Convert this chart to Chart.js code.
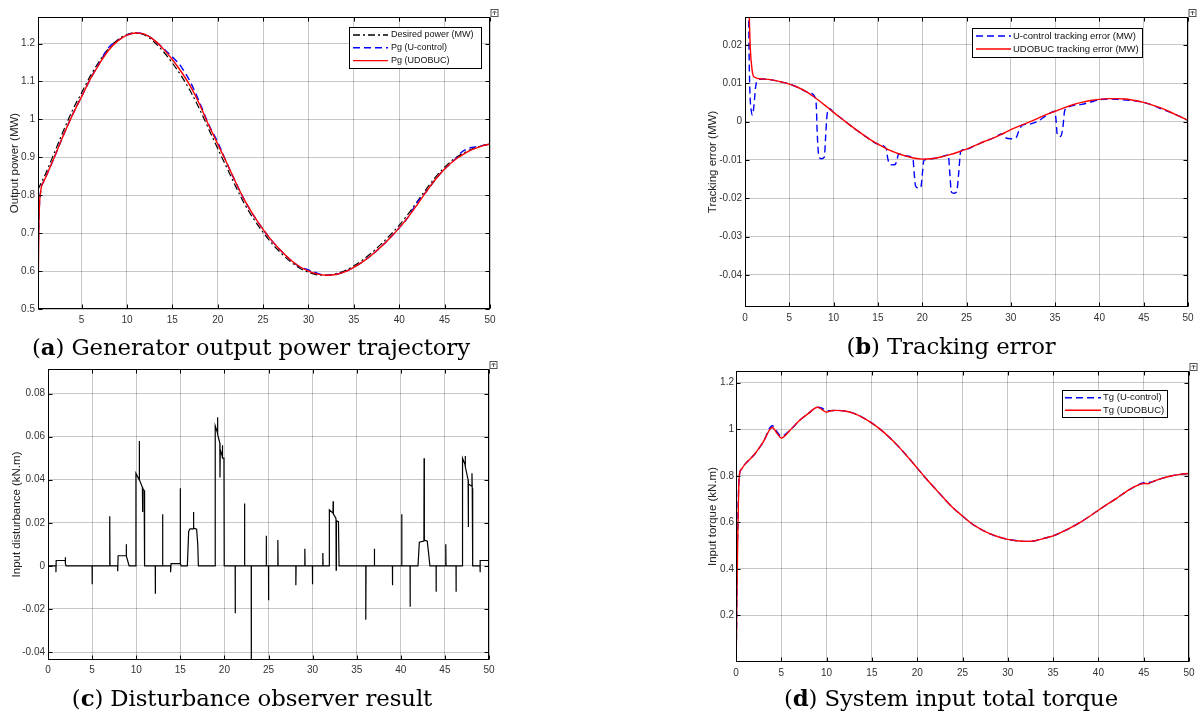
<!DOCTYPE html>
<html>
<head>
<meta charset="utf-8">
<script src="https://cdn.jsdelivr.net/npm/chart.js@4.4.1/dist/chart.umd.min.js"></script>
<style>
  body { margin: 0; background: #fff; width: 1200px; height: 718px; position: relative; overflow: hidden; }
  canvas { position: absolute; }
  .cap { position: absolute; font-family: "DejaVu Serif", serif; font-size: 22.8px; color: #000;
         white-space: nowrap; transform: translate(-50%, -50%); letter-spacing: -0.1px; }
</style>
</head>
<body>
<canvas id="chartA" width="500" height="330" style="left:0;top:0"></canvas>
<canvas id="chartB" width="510" height="330" style="left:690px;top:0"></canvas>
<canvas id="chartC" width="500" height="388" style="left:0;top:330px"></canvas>
<canvas id="chartD" width="510" height="388" style="left:690px;top:330px"></canvas>
<div class="cap" style="left:251px;top:347px">(<b>a</b>) Generator output power trajectory</div>
<div class="cap" style="left:951px;top:346px">(<b>b</b>) Tracking error</div>
<div class="cap" style="left:252px;top:698px">(<b>c</b>) Disturbance observer result</div>
<div class="cap" style="left:951px;top:698px">(<b>d</b>) System input total torque</div>
<script>
// common time grid (s)
const secondsGrid = [1, 2, 3, 4, 5, 6, 7, 8, 9, 10, 11, 12, 13, 14, 15, 16, 17, 18, 19, 20,
  21, 22, 23, 24, 25, 26, 27, 28, 29, 30, 31, 32, 33, 34, 35, 36, 37, 38, 39, 40,
  41, 42, 43, 44, 45, 46, 47, 48, 49, 50];
const xTicks = [0, 5, 10, 15, 20, 25, 30, 35, 40, 45, 50];

// (a) output power
const tPg = [0.2, 0.3, 0.5, 0.8, ...secondsGrid];
const pgUdobuc = [0.5, 0.72, 0.81, 0.835,
  0.845, 0.9, 0.958, 1.012, 1.06, 1.108, 1.148, 1.183, 1.207, 1.222,
  1.228, 1.224, 1.209, 1.186, 1.158, 1.125, 1.087, 1.04, 0.985, 0.935,
  0.885, 0.833, 0.785, 0.745, 0.71, 0.679, 0.653, 0.63, 0.612, 0.6,
  0.592, 0.589, 0.591, 0.598, 0.61, 0.625, 0.643, 0.664, 0.688, 0.714,
  0.743, 0.776, 0.81, 0.842, 0.869, 0.891, 0.907, 0.92, 0.929, 0.935];
const pgUcontrol = [0.62, 0.74, 0.812, 0.835,
  0.845, 0.9, 0.958, 1.012, 1.06, 1.108, 1.15, 1.19, 1.208, 1.222,
  1.228, 1.224, 1.209, 1.187, 1.165, 1.138, 1.098, 1.045, 0.987, 0.94,
  0.885, 0.833, 0.785, 0.745, 0.71, 0.679, 0.653, 0.63, 0.612, 0.603,
  0.594, 0.589, 0.591, 0.598, 0.61, 0.625, 0.643, 0.664, 0.688, 0.714,
  0.743, 0.782, 0.81, 0.842, 0.869, 0.891, 0.916, 0.926, 0.93, 0.935];
const tDesired = [0.2, 0.5, ...secondsGrid];
const desiredPower = [0.815, 0.83,
  0.855, 0.912, 0.97, 1.024, 1.07, 1.116, 1.155, 1.188, 1.21, 1.224,
  1.228, 1.222, 1.204, 1.179, 1.149, 1.114, 1.074, 1.027, 0.975, 0.923,
  0.873, 0.822, 0.775, 0.736, 0.702, 0.672, 0.647, 0.625, 0.608, 0.597,
  0.59, 0.589, 0.593, 0.601, 0.614, 0.63, 0.649, 0.671, 0.695, 0.721,
  0.751, 0.784, 0.817, 0.848, 0.874, 0.895, 0.91, 0.922, 0.93, 0.935];
const powerTicks = [0.5, 0.6, 0.7, 0.8, 0.9, 1, 1.1, 1.2];

// (b) tracking error
const tErrUdobuc = [0.4, 0.5, 0.6, 0.8, ...secondsGrid];
const errUdobuc = [0.035, 0.026, 0.019, 0.0135,
  0.0117, 0.0111, 0.0109, 0.0104, 0.0098, 0.0089, 0.0077, 0.0061, 0.0043, 0.0024,
  0.0006, -0.0012, -0.0029, -0.0045, -0.0059, -0.0071, -0.0081, -0.0089, -0.0095, -0.0098,
  -0.0097, -0.0093, -0.0087, -0.008, -0.0072, -0.0062, -0.0052, -0.0043, -0.0033, -0.0021,
  -0.0011, -0.0002, 0.0008, 0.0018, 0.0027, 0.0036, 0.0044, 0.005, 0.0055, 0.0058,
  0.006, 0.006, 0.0059, 0.0055, 0.005, 0.0043, 0.0035, 0.0025, 0.0014, 0.0003];
const tErrUcontrol = [
  0.4, 0.45, 0.55, 0.7, 0.85, 1.0, 1.2, 1.4,
  2, 3, 4, 5, 6, 7,
  7.95, 8.05, 8.15, 8.35, 8.6, 8.95, 9.1, 9.25, 9.5,
  10, 11, 12, 13, 14, 15,
  15.95, 16.1, 16.3, 16.6, 16.95, 17.15, 17.35,
  18,
  18.95, 19.08, 19.25, 19.5, 19.85, 20.0, 20.2,
  21, 22,
  22.95, 23.1, 23.3, 23.6, 23.9, 24.1, 24.35,
  25, 26, 27, 28,
  29.2, 29.4, 30, 30.6, 30.9, 31.3,
  32, 33, 34,
  34.95, 35.1, 35.25, 35.6, 35.85, 36.1, 36.5,
  37, 38, 39, 40, 41, 42, 43, 44, 45, 46, 47, 48, 49, 50];
const errUcontrol = [
  0.035, 0.02, 0.008, 0.003, 0.0017, 0.004, 0.009, 0.0108,
  0.0111, 0.0109, 0.0104, 0.0098, 0.0089, 0.0077,
  0.0062, 0.004, -0.003, -0.0092, -0.0097, -0.0093, -0.004, 0.0015, 0.0034,
  0.0024, 0.0006, -0.0012, -0.0029, -0.0045, -0.0059,
  -0.0071, -0.0095, -0.011, -0.0113, -0.0112, -0.01, -0.0084,
  -0.0089,
  -0.0095, -0.013, -0.0168, -0.0173, -0.0172, -0.014, -0.0101,
  -0.0097, -0.0093,
  -0.0087, -0.013, -0.0184, -0.0187, -0.0183, -0.014, -0.0078,
  -0.0072, -0.0062, -0.0052, -0.0043,
  -0.0031, -0.0042, -0.0045, -0.0042, -0.0025, -0.0009,
  -0.0007, 0.0, 0.0016,
  0.0027, 0.0005, -0.0035, -0.0039, -0.002, 0.003, 0.0038,
  0.0042, 0.0045, 0.0051, 0.0057, 0.0059, 0.0058, 0.0056, 0.0054, 0.005, 0.0043, 0.0033, 0.0024, 0.0014, 0.0003];
const errTicks = [-0.04, -0.03, -0.02, -0.01, 0, 0.01, 0.02];

// (c) disturbance observer output
const tObs = [
  0, 0.9, 0.9, 0.93, 1.96, 1.96, 1.99, 2.05,
  5.0, 5.0, 5.03,
  7.0, 7.0, 7.03,
  7.9, 7.9, 7.95, 8.85, 8.87, 8.9, 9.2,
  9.97, 9.97, 10.33, 10.35, 10.37, 10.7, 10.72, 10.75, 10.9, 10.95,
  12.16, 12.16, 12.19,
  12.99, 12.99, 13.02,
  13.9, 13.9, 13.95, 14.97, 14.99, 15.02, 15.1,
  15.8, 15.95, 16.1, 16.48, 16.5, 16.52, 16.85, 16.98, 17.05,
  18.96, 18.96, 19.2, 19.22, 19.25, 19.48, 19.5, 19.53, 19.75, 19.77, 19.8, 19.95, 19.98,
  21.22, 21.22, 21.25,
  22.28, 22.28, 22.31,
  23.04, 23.04, 23.07,
  24.74, 24.74, 24.77,
  25.0, 25.0, 25.03,
  26.06, 26.06, 26.09,
  28.1, 28.1, 28.13,
  29.12, 29.12, 29.15,
  29.98, 29.98, 30.01,
  31.16, 31.16, 31.19,
  31.9, 31.9, 32.31, 32.33, 32.36, 32.65, 32.67, 32.7, 32.93, 33.0,
  36.03, 36.03, 36.06,
  37.0, 37.0, 37.03,
  39.05, 39.05, 39.08,
  40.1, 40.1, 40.13,
  41.05, 41.05, 41.08,
  41.95, 42.1, 42.62, 42.64, 42.67, 43.0, 43.15, 43.3,
  44.0, 44.0, 44.03,
  45.1, 45.1, 45.13,
  46.26, 46.26, 46.29,
  47.0, 47.0, 47.28, 47.3, 47.33, 47.63, 47.65, 47.68, 48.05, 48.07, 48.1, 48.15,
  48.98, 48.98, 49.02, 50];
const obsDisturbance = [
  0, 0, -0.003, 0.0025, 0.0025, 0.004, 0.001, 0,
  0, -0.0085, 0,
  0, 0.023, 0,
  0, -0.0025, 0.0047, 0.0047, 0.01, 0.0045, 0,
  0, 0.043, 0.04, 0.058, 0.04, 0.0365, 0.025, 0.036, 0.035, 0,
  0, -0.013, 0,
  0, 0.024, 0,
  0, -0.003, 0.001, 0.001, 0.036, 0.001, 0,
  0, 0.016, 0.0172, 0.0172, 0.025, 0.0175, 0.017, 0.01, 0,
  0, 0.065, 0.062, 0.069, 0.061, 0.057, 0.041, 0.054, 0.051, 0.056, 0.05, 0.05, 0,
  0, -0.022, 0,
  0, 0.029, 0,
  0, -0.06, 0,
  0, 0.014, 0,
  0, -0.016, 0,
  0, 0.012, 0,
  0, -0.009, 0,
  0, 0.008, 0,
  0, -0.0085, 0,
  0, 0.006, 0,
  0, 0.026, 0.0245, 0.03, 0.024, 0.022, -0.002, 0.021, 0.0205, 0,
  0, -0.025, 0,
  0, 0.008, 0,
  0, -0.009, 0,
  0, 0.024, 0,
  0, -0.019, 0,
  0, 0.011, 0.0115, 0.05, 0.012, 0.0115, 0.006, 0,
  0, -0.012, 0,
  0, 0.01, 0,
  0, -0.012, 0,
  0, 0.05, 0.047, 0.051, 0.046, 0.04, 0.018, 0.038, 0.037, 0.043, 0.036, 0,
  0, -0.003, 0.0025, 0.0025];
const obsTicks = [-0.04, -0.02, 0, 0.02, 0.04, 0.06, 0.08];

// (d) input torque
const tTorque = [0, 0.05, 0.1, 0.2, 0.3, 0.4, 0.6, 1, 2, 3, 4,
  4.5, 5, 6, 7, 8, 9, 9.5, 10, 10.5, 11,
  12, 13, 14, 15, 16, 17, 18, 19, 20, 21, 22, 23, 24, 25, 26, 27, 28, 29, 30,
  31, 32, 33, 34, 35, 36, 37, 38, 39, 40, 41, 42, 43, 44, 45, 45.5, 46, 47, 48, 49, 50];
const tgUdobuc = [0, 0.1, 0.28, 0.55, 0.75, 0.81, 0.828, 0.85, 0.89, 0.945, 1.007,
  0.984, 0.962, 0.997, 1.037, 1.068, 1.094, 1.084, 1.073, 1.079, 1.081,
  1.078, 1.068, 1.05, 1.026, 0.997, 0.962, 0.923, 0.879, 0.833, 0.787, 0.744, 0.701, 0.66, 0.627, 0.595, 0.571, 0.551, 0.537, 0.527,
  0.521, 0.518, 0.521, 0.531, 0.542, 0.559, 0.578, 0.6, 0.625, 0.652, 0.678, 0.703, 0.73, 0.753, 0.767, 0.766, 0.775, 0.789, 0.799, 0.806, 0.81];
const tgUcontrol = [0, 0.12, 0.35, 0.6, 0.76, 0.81, 0.828, 0.85, 0.89, 0.945, 1.015,
  0.99, 0.97, 0.997, 1.037, 1.068, 1.094, 1.09, 1.08, 1.08, 1.081,
  1.078, 1.068, 1.05, 1.026, 0.997, 0.962, 0.923, 0.879, 0.833, 0.787, 0.744, 0.701, 0.66, 0.627, 0.595, 0.571, 0.551, 0.537, 0.527,
  0.521, 0.518, 0.521, 0.531, 0.542, 0.559, 0.578, 0.6, 0.625, 0.652, 0.678, 0.703, 0.73, 0.753, 0.77, 0.771, 0.775, 0.789, 0.799, 0.806, 0.81];
const torqueTicks = [0.2, 0.4, 0.6, 0.8, 1, 1.2];

const FONT = '"Liberation Sans", Arial, sans-serif';
const pts = (xs, ys) => xs.map((x, i) => ({ x, y: ys[i] }));

// axes box, inner tick marks and the little export icon
const framePlugin = {
  id: 'frame',
  afterDatasetsDraw(chart) {
    const { ctx, chartArea: a, scales } = chart;
    const L = Math.round(a.left) + 0.5, R = Math.round(a.right) - 0.5;
    const T = Math.round(a.top) + 0.5, B = Math.round(a.bottom) - 0.5;
    ctx.save();
    ctx.strokeStyle = '#000';
    ctx.lineWidth = 1;
    ctx.beginPath();
    scales.x.ticks.forEach(t => {
      const px = Math.round(scales.x.getPixelForValue(t.value)) + 0.5;
      ctx.moveTo(px, B); ctx.lineTo(px, B - 4);
      ctx.moveTo(px, T); ctx.lineTo(px, T + 4);
    });
    scales.y.ticks.forEach(t => {
      const py = Math.round(scales.y.getPixelForValue(t.value)) + 0.5;
      ctx.moveTo(L, py); ctx.lineTo(L + 4, py);
      ctx.moveTo(R, py); ctx.lineTo(R - 4, py);
    });
    ctx.stroke();
    ctx.strokeRect(L, T, R - L, B - T);
    ctx.strokeStyle = '#555';
    ctx.strokeRect(R + 1.5, T - 8, 7, 7);
    ctx.beginPath();
    ctx.moveTo(R + 5, T - 6); ctx.lineTo(R + 5, T - 2.5);
    ctx.moveTo(R + 3, T - 4.5); ctx.lineTo(R + 5, T - 6.5); ctx.lineTo(R + 7, T - 4.5);
    ctx.stroke();
    ctx.restore();
  }
};

// boxed legend placed inside the axes
const boxLegend = {
  id: 'boxLegend',
  afterDraw(chart, args, o) {
    if (!o || !o.order) return;
    const ctx = chart.ctx;
    ctx.save();
    ctx.fillStyle = '#fff';
    ctx.fillRect(o.x, o.y, o.w, o.h);
    ctx.strokeStyle = '#000';
    ctx.lineWidth = 1;
    ctx.strokeRect(o.x + 0.5, o.y + 0.5, o.w, o.h);
    ctx.font = o.fontSize + 'px ' + FONT;
    ctx.textBaseline = 'middle';
    o.order.forEach((di, i) => {
      const ds = chart.data.datasets[di];
      const y = o.y + o.first + i * o.gap;
      ctx.strokeStyle = ds.borderColor;
      ctx.lineWidth = 1.4;
      ctx.setLineDash(ds.borderDash || []);
      ctx.beginPath();
      ctx.moveTo(o.x + o.lineFrom, y);
      ctx.lineTo(o.x + o.lineTo, y);
      ctx.stroke();
      ctx.setLineDash([]);
      ctx.fillStyle = '#111';
      ctx.fillText(ds.label, o.x + o.textAt, y);
    });
    ctx.restore();
  }
};

function buildChart(canvasId, spec) {
  return new Chart(document.getElementById(canvasId), {
    type: 'line',
    data: { datasets: spec.datasets },
    options: {
      responsive: false,
      animation: false,
      layout: { padding: spec.padding },
      elements: { point: { radius: 0 }, line: { borderWidth: 1.4 } },
      plugins: {
        legend: { display: false },
        tooltip: { enabled: false },
        boxLegend: spec.legend || {}
      },
      scales: {
        x: {
          type: 'linear',
          min: spec.xMin,
          max: 50,
          grid: { color: 'rgba(0,0,0,0.22)', drawTicks: false },
          border: { display: false },
          ticks: { padding: spec.xPad, color: '#333', font: { family: FONT, size: 10 }, callback: v => String(v) },
          afterBuildTicks: s => { s.ticks = xTicks.filter(v => v >= spec.xMin).map(v => ({ value: v })); },
          afterFit: s => { s.height = 14; s.paddingLeft = 0; s.paddingRight = 0; }
        },
        y: {
          min: spec.yMin,
          max: spec.yMax,
          grid: { color: 'rgba(0,0,0,0.22)', drawTicks: false },
          border: { display: false },
          ticks: { padding: spec.yPad, color: '#333', font: { family: FONT, size: 10 }, callback: v => String(v) },
          afterBuildTicks: s => { s.ticks = spec.yTicks.map(v => ({ value: v })); },
          afterFit: s => { s.width = spec.yWidth; s.paddingTop = 0; s.paddingBottom = 0; },
          title: {
            display: true,
            text: spec.yTitle,
            color: '#222',
            font: { family: FONT, size: 11.5 },
            padding: { top: spec.titleOffset, bottom: 0 }
          }
        }
      }
    },
    plugins: [framePlugin, boxLegend]
  });
}

const RED = '#ff0000', BLUE = '#0000ff';

buildChart('chartA', {
  padding: { top: 17, right: 10, bottom: 7, left: 0 },
  yWidth: 38, xMin: 0.2, yMin: 0.5, yMax: 1.27, yTicks: powerTicks,
  xPad: 5, yPad: 3, titleOffset: 8, yTitle: 'Output power (MW)',
  datasets: [
    { label: 'Pg (UDOBUC)', data: pts(tPg, pgUdobuc), borderColor: RED, cubicInterpolationMode: 'monotone', clip: 0 },
    { label: 'Pg (U-control)', data: pts(tPg, pgUcontrol), borderColor: BLUE, borderDash: [7, 4], cubicInterpolationMode: 'monotone', clip: 0 },
    { label: 'Desired power (MW)', data: pts(tDesired, desiredPower), borderColor: '#000', borderWidth: 1.2, borderDash: [7, 3, 2, 3], cubicInterpolationMode: 'monotone', clip: 0 }
  ],
  legend: { x: 349, y: 27, w: 132, h: 41, first: 8, gap: 12.8, lineFrom: 4, lineTo: 39, textAt: 42, fontSize: 9, order: [2, 1, 0] }
});

buildChart('chartB', {
  padding: { top: 17, right: 12, bottom: 9, left: 0 },
  yWidth: 55, xMin: 0, yMin: -0.0484, yMax: 0.0273, yTicks: errTicks,
  xPad: 5, yPad: 3, titleOffset: 16, yTitle: 'Tracking error (MW)',
  datasets: [
    { label: 'UDOBUC tracking error (MW)', data: pts(tErrUdobuc, errUdobuc), borderColor: RED, cubicInterpolationMode: 'monotone', clip: 0 },
    { label: 'U-control tracking error (MW)', data: pts(tErrUcontrol, errUcontrol), borderColor: BLUE, borderDash: [7, 4], cubicInterpolationMode: 'monotone', clip: 0 }
  ],
  legend: { x: 282, y: 28, w: 170, h: 29, first: 8, gap: 13, lineFrom: 4, lineTo: 39, textAt: 41, fontSize: 9.5, order: [1, 0] }
});

buildChart('chartC', {
  padding: { top: 39, right: 11, bottom: 44, left: 0 },
  yWidth: 48, xMin: 0, yMin: -0.0437, yMax: 0.0914, yTicks: obsTicks,
  xPad: 4, yPad: 3, titleOffset: 10, yTitle: 'Input disturbance (kN.m)',
  datasets: [
    { label: 'Disturbance', data: pts(tObs, obsDisturbance), borderColor: '#000', borderWidth: 1.2, tension: 0, clip: 0 }
  ]
});

buildChart('chartD', {
  padding: { top: 41, right: 11, bottom: 42, left: 0 },
  yWidth: 46, xMin: 0, yMin: 0, yMax: 1.25, yTicks: torqueTicks,
  xPad: 5, yPad: 2, titleOffset: 16, yTitle: 'Input torque (kN.m)',
  datasets: [
    { label: 'Tg (UDOBUC)', data: pts(tTorque, tgUdobuc), borderColor: RED, cubicInterpolationMode: 'monotone', clip: 0 },
    { label: 'Tg (U-control)', data: pts(tTorque, tgUcontrol), borderColor: BLUE, borderDash: [7, 4], cubicInterpolationMode: 'monotone', clip: 0 }
  ],
  legend: { x: 372, y: 60, w: 105, h: 27, first: 7.7, gap: 12.6, lineFrom: 3, lineTo: 39, textAt: 41, fontSize: 9.5, order: [1, 0] }
});
</script>
</body>
</html>
